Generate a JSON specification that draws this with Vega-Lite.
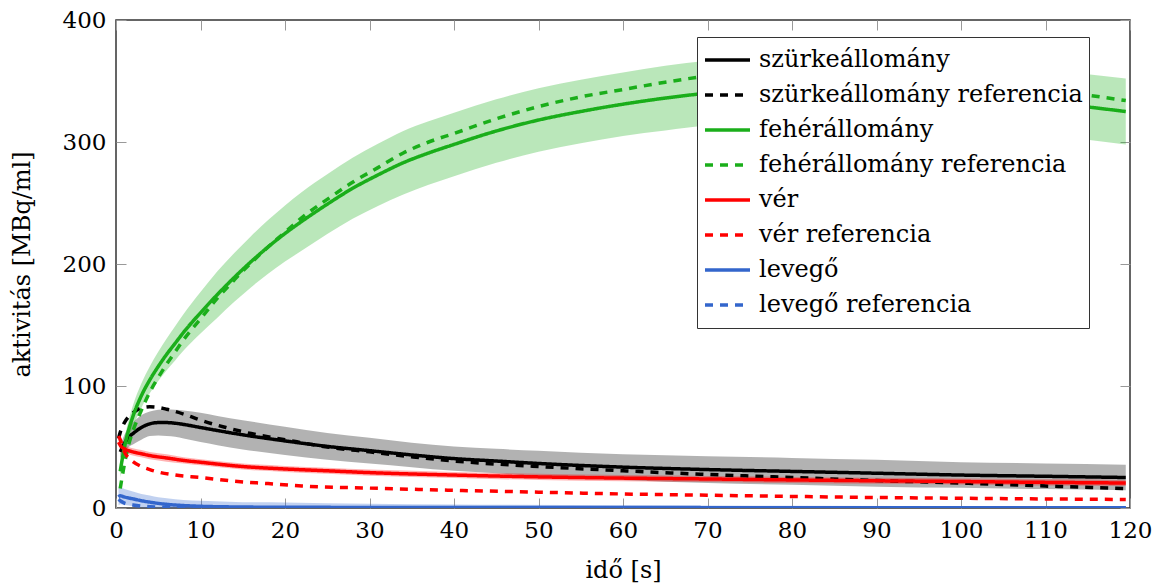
{
  "$schema": "https://vega.github.io/schema/vega-lite/v6.json",
  "width": 1014,
  "height": 488,
  "autosize": {"type": "none"},
  "padding": {"left": 116, "top": 20, "right": 24, "bottom": 78},
  "background": "white",
  "config": {
    "view": {"stroke": "#333", "strokeWidth": 1.5},
    "font": "DejaVu Serif",
    "axis": {
      "grid": false,
      "domain": false,
      "tickColor": "#999",
      "tickWidth": 1,
      "tickSize": -10,
      "labelFlush": false,
      "labelFont": "DejaVu Serif",
      "labelFontSize": 23,
      "labelColor": "#000",
      "titleFont": "DejaVu Serif",
      "titleFontSize": 24,
      "titleFontWeight": "normal",
      "titleColor": "#000"
    }
  },
  "datasets": {
    "bands": [
      {"t":0.5,"series":"szürkeállomány","lo":41,"hi":51},
      {"t":1,"series":"szürkeállomány","lo":46,"hi":60},
      {"t":1.5,"series":"szürkeállomány","lo":50,"hi":66},
      {"t":2,"series":"szürkeállomány","lo":52,"hi":70},
      {"t":3,"series":"szürkeállomány","lo":56,"hi":76},
      {"t":4,"series":"szürkeállomány","lo":59,"hi":79},
      {"t":5,"series":"szürkeállomány","lo":59.5,"hi":80.5},
      {"t":6,"series":"szürkeállomány","lo":59,"hi":81},
      {"t":7,"series":"szürkeállomány","lo":58.5,"hi":80.5},
      {"t":8,"series":"szürkeállomány","lo":57,"hi":80},
      {"t":10,"series":"szürkeállomány","lo":54,"hi":78},
      {"t":12,"series":"szürkeállomány","lo":51.5,"hi":75.5},
      {"t":15,"series":"szürkeállomány","lo":48,"hi":72},
      {"t":20,"series":"szürkeállomány","lo":43.5,"hi":66.5},
      {"t":25,"series":"szürkeállomány","lo":39.5,"hi":61.5},
      {"t":30,"series":"szürkeállomány","lo":36.5,"hi":57.5},
      {"t":35,"series":"szürkeállomány","lo":33.5,"hi":53.5},
      {"t":40,"series":"szürkeállomány","lo":30.5,"hi":50.5},
      {"t":45,"series":"szürkeállomány","lo":28.5,"hi":48.5},
      {"t":50,"series":"szürkeállomány","lo":26,"hi":47},
      {"t":60,"series":"szürkeállomány","lo":23,"hi":44},
      {"t":70,"series":"szürkeállomány","lo":20.5,"hi":42.5},
      {"t":80,"series":"szürkeállomány","lo":19,"hi":41},
      {"t":90,"series":"szürkeállomány","lo":17.5,"hi":39.5},
      {"t":100,"series":"szürkeállomány","lo":16.5,"hi":37.5},
      {"t":110,"series":"szürkeállomány","lo":15.5,"hi":36.5},
      {"t":119.5,"series":"szürkeállomány","lo":14.5,"hi":35.5},

      {"t":0.5,"series":"fehérállomány","lo":25,"hi":35},
      {"t":1,"series":"fehérállomány","lo":43,"hi":57},
      {"t":1.5,"series":"fehérállomány","lo":56,"hi":72},
      {"t":2,"series":"fehérállomány","lo":66,"hi":84},
      {"t":3,"series":"fehérállomány","lo":82,"hi":102},
      {"t":4,"series":"fehérállomány","lo":94,"hi":116},
      {"t":5,"series":"fehérállomány","lo":104,"hi":128},
      {"t":6,"series":"fehérállomány","lo":113,"hi":139},
      {"t":7,"series":"fehérállomány","lo":121,"hi":149},
      {"t":8,"series":"fehérállomány","lo":129,"hi":159},
      {"t":10,"series":"fehérállomány","lo":143,"hi":177},
      {"t":12,"series":"fehérállomány","lo":156,"hi":194},
      {"t":14,"series":"fehérállomány","lo":169,"hi":209},
      {"t":16,"series":"fehérállomány","lo":181,"hi":223},
      {"t":18,"series":"fehérállomány","lo":192,"hi":236},
      {"t":20,"series":"fehérállomány","lo":202,"hi":248},
      {"t":22,"series":"fehérállomány","lo":211,"hi":259},
      {"t":25,"series":"fehérállomány","lo":224.5,"hi":273.5},
      {"t":28,"series":"fehérállomány","lo":237,"hi":287},
      {"t":31,"series":"fehérállomány","lo":247.5,"hi":298.5},
      {"t":34,"series":"fehérállomány","lo":257,"hi":309},
      {"t":37,"series":"fehérállomány","lo":265,"hi":317},
      {"t":40,"series":"fehérállomány","lo":272,"hi":324},
      {"t":45,"series":"fehérállomány","lo":283,"hi":335},
      {"t":50,"series":"fehérállomány","lo":292,"hi":344},
      {"t":55,"series":"fehérállomány","lo":299,"hi":351},
      {"t":60,"series":"fehérállomány","lo":305,"hi":357},
      {"t":65,"series":"fehérállomány","lo":309.5,"hi":362.5},
      {"t":70,"series":"fehérállomány","lo":313.5,"hi":366.5},
      {"t":75,"series":"fehérállomány","lo":315.5,"hi":369.5},
      {"t":80,"series":"fehérállomány","lo":316.5,"hi":370.5},
      {"t":85,"series":"fehérállomány","lo":316.5,"hi":370.5},
      {"t":90,"series":"fehérállomány","lo":315.5,"hi":369.5},
      {"t":100,"series":"fehérállomány","lo":311.5,"hi":365.5},
      {"t":110,"series":"fehérállomány","lo":305.5,"hi":359.5},
      {"t":119.5,"series":"fehérállomány","lo":298,"hi":352},

      {"t":0.3,"series":"vér","lo":51,"hi":57},
      {"t":0.6,"series":"vér","lo":47.5,"hi":53.5},
      {"t":1,"series":"vér","lo":45.5,"hi":51.5},
      {"t":2,"series":"vér","lo":43,"hi":49},
      {"t":3,"series":"vér","lo":41.5,"hi":47.5},
      {"t":4,"series":"vér","lo":40,"hi":46},
      {"t":6,"series":"vér","lo":38,"hi":44},
      {"t":8,"series":"vér","lo":36.5,"hi":41.5},
      {"t":10,"series":"vér","lo":35,"hi":40},
      {"t":15,"series":"vér","lo":31.5,"hi":36.5},
      {"t":20,"series":"vér","lo":29.5,"hi":34.5},
      {"t":25,"series":"vér","lo":28,"hi":33},
      {"t":30,"series":"vér","lo":26.5,"hi":31.5},
      {"t":40,"series":"vér","lo":24.5,"hi":29.5},
      {"t":50,"series":"vér","lo":23,"hi":28},
      {"t":60,"series":"vér","lo":22,"hi":27},
      {"t":70,"series":"vér","lo":21.3,"hi":26.3},
      {"t":80,"series":"vér","lo":20.5,"hi":25.5},
      {"t":90,"series":"vér","lo":19.8,"hi":24.8},
      {"t":100,"series":"vér","lo":19.2,"hi":24.2},
      {"t":110,"series":"vér","lo":18.5,"hi":23.5},
      {"t":119.5,"series":"vér","lo":18,"hi":23},

      {"t":0.3,"series":"levegő","lo":2,"hi":16},
      {"t":0.5,"series":"levegő","lo":3,"hi":17},
      {"t":1,"series":"levegő","lo":2.5,"hi":15.5},
      {"t":2,"series":"levegő","lo":1.5,"hi":13.5},
      {"t":3,"series":"levegő","lo":0.5,"hi":11.5},
      {"t":4,"series":"levegő","lo":-0.7,"hi":10.3},
      {"t":5,"series":"levegő","lo":-1.2,"hi":8.8},
      {"t":6,"series":"levegő","lo":-2,"hi":8},
      {"t":8,"series":"levegő","lo":-2.5,"hi":6.5},
      {"t":10,"series":"levegő","lo":-3.1,"hi":5.9},
      {"t":15,"series":"levegő","lo":-3.2,"hi":4.8},
      {"t":20,"series":"levegő","lo":-3.4,"hi":4.6},
      {"t":30,"series":"levegő","lo":-2.5,"hi":3.5},
      {"t":40,"series":"levegő","lo":-2.1,"hi":2.9},
      {"t":60,"series":"levegő","lo":-1.65,"hi":2.35},
      {"t":80,"series":"levegő","lo":-1.2,"hi":1.8},
      {"t":119.5,"series":"levegő","lo":-0.9,"hi":1.5}
    ],
    "lines": [
      {"t":0.5,"s":"szürkeállomány","v":46},
      {"t":1,"s":"szürkeállomány","v":53},
      {"t":1.5,"s":"szürkeállomány","v":58},
      {"t":2,"s":"szürkeállomány","v":61},
      {"t":3,"s":"szürkeállomány","v":66},
      {"t":4,"s":"szürkeállomány","v":69},
      {"t":5,"s":"szürkeállomány","v":70},
      {"t":6,"s":"szürkeállomány","v":70},
      {"t":7,"s":"szürkeállomány","v":69.5},
      {"t":8,"s":"szürkeállomány","v":68.5},
      {"t":10,"s":"szürkeállomány","v":66},
      {"t":12,"s":"szürkeállomány","v":63.5},
      {"t":15,"s":"szürkeállomány","v":60},
      {"t":20,"s":"szürkeállomány","v":55},
      {"t":25,"s":"szürkeállomány","v":50.5},
      {"t":30,"s":"szürkeállomány","v":47},
      {"t":35,"s":"szürkeállomány","v":43.5},
      {"t":40,"s":"szürkeállomány","v":40.5},
      {"t":45,"s":"szürkeállomány","v":38.5},
      {"t":50,"s":"szürkeállomány","v":36.5},
      {"t":60,"s":"szürkeállomány","v":33.5},
      {"t":70,"s":"szürkeállomány","v":31.5},
      {"t":80,"s":"szürkeállomány","v":30},
      {"t":90,"s":"szürkeállomány","v":28.5},
      {"t":100,"s":"szürkeállomány","v":27},
      {"t":110,"s":"szürkeállomány","v":26},
      {"t":119.5,"s":"szürkeállomány","v":25},

      {"t":0.3,"s":"szürkeállomány referencia","v":57},
      {"t":0.5,"s":"szürkeállomány referencia","v":62},
      {"t":1,"s":"szürkeállomány referencia","v":70},
      {"t":1.5,"s":"szürkeállomány referencia","v":75},
      {"t":2,"s":"szürkeállomány referencia","v":78},
      {"t":3,"s":"szürkeállomány referencia","v":82},
      {"t":4,"s":"szürkeállomány referencia","v":83},
      {"t":5,"s":"szürkeállomány referencia","v":82.5},
      {"t":6,"s":"szürkeállomány referencia","v":81},
      {"t":8,"s":"szürkeállomány referencia","v":77},
      {"t":10,"s":"szürkeállomány referencia","v":72},
      {"t":13,"s":"szürkeállomány referencia","v":66},
      {"t":16,"s":"szürkeállomány referencia","v":61},
      {"t":20,"s":"szürkeállomány referencia","v":56},
      {"t":25,"s":"szürkeállomány referencia","v":50},
      {"t":30,"s":"szürkeállomány referencia","v":46},
      {"t":35,"s":"szürkeállomány referencia","v":42},
      {"t":40,"s":"szürkeállomány referencia","v":38.5},
      {"t":45,"s":"szürkeállomány referencia","v":36},
      {"t":50,"s":"szürkeállomány referencia","v":34},
      {"t":60,"s":"szürkeállomány referencia","v":30.5},
      {"t":70,"s":"szürkeállomány referencia","v":27.5},
      {"t":80,"s":"szürkeállomány referencia","v":25},
      {"t":90,"s":"szürkeállomány referencia","v":22.5},
      {"t":100,"s":"szürkeállomány referencia","v":20.5},
      {"t":110,"s":"szürkeállomány referencia","v":18},
      {"t":119.5,"s":"szürkeállomány referencia","v":16},

      {"t":0.5,"s":"fehérállomány","v":30},
      {"t":1,"s":"fehérállomány","v":50},
      {"t":1.5,"s":"fehérállomány","v":64},
      {"t":2,"s":"fehérállomány","v":75},
      {"t":3,"s":"fehérállomány","v":92},
      {"t":4,"s":"fehérállomány","v":105},
      {"t":5,"s":"fehérállomány","v":116},
      {"t":6,"s":"fehérállomány","v":126},
      {"t":7,"s":"fehérállomány","v":135},
      {"t":8,"s":"fehérállomány","v":144},
      {"t":10,"s":"fehérállomány","v":160},
      {"t":12,"s":"fehérállomány","v":175},
      {"t":14,"s":"fehérállomány","v":189},
      {"t":16,"s":"fehérállomány","v":202},
      {"t":18,"s":"fehérállomány","v":214},
      {"t":20,"s":"fehérállomány","v":225},
      {"t":22,"s":"fehérállomány","v":235},
      {"t":25,"s":"fehérállomány","v":249},
      {"t":28,"s":"fehérállomány","v":262},
      {"t":31,"s":"fehérállomány","v":273},
      {"t":34,"s":"fehérállomány","v":283},
      {"t":37,"s":"fehérállomány","v":291},
      {"t":40,"s":"fehérállomány","v":298},
      {"t":45,"s":"fehérállomány","v":309},
      {"t":50,"s":"fehérállomány","v":318},
      {"t":55,"s":"fehérállomány","v":325},
      {"t":60,"s":"fehérállomány","v":331},
      {"t":65,"s":"fehérállomány","v":336},
      {"t":70,"s":"fehérállomány","v":340},
      {"t":75,"s":"fehérállomány","v":342.5},
      {"t":80,"s":"fehérállomány","v":343.5},
      {"t":85,"s":"fehérállomány","v":343.5},
      {"t":90,"s":"fehérállomány","v":342.5},
      {"t":100,"s":"fehérállomány","v":338.5},
      {"t":110,"s":"fehérállomány","v":332.5},
      {"t":119.5,"s":"fehérállomány","v":325},

      {"t":0.5,"s":"fehérállomány referencia","v":16},
      {"t":1,"s":"fehérállomány referencia","v":36},
      {"t":1.5,"s":"fehérállomány referencia","v":52},
      {"t":2,"s":"fehérállomány referencia","v":63},
      {"t":3,"s":"fehérállomány referencia","v":80},
      {"t":4,"s":"fehérállomány referencia","v":95},
      {"t":5,"s":"fehérállomány referencia","v":107},
      {"t":6,"s":"fehérállomány referencia","v":118},
      {"t":7,"s":"fehérállomány referencia","v":128},
      {"t":8,"s":"fehérállomány referencia","v":138},
      {"t":10,"s":"fehérállomány referencia","v":155},
      {"t":12,"s":"fehérállomány referencia","v":172},
      {"t":14,"s":"fehérállomány referencia","v":187},
      {"t":16,"s":"fehérállomány referencia","v":201},
      {"t":18,"s":"fehérállomány referencia","v":214},
      {"t":20,"s":"fehérállomány referencia","v":226},
      {"t":22,"s":"fehérállomány referencia","v":238},
      {"t":25,"s":"fehérállomány referencia","v":253},
      {"t":28,"s":"fehérállomány referencia","v":267},
      {"t":31,"s":"fehérállomány referencia","v":279},
      {"t":34,"s":"fehérállomány referencia","v":291},
      {"t":37,"s":"fehérállomány referencia","v":300},
      {"t":40,"s":"fehérállomány referencia","v":307},
      {"t":45,"s":"fehérállomány referencia","v":319},
      {"t":50,"s":"fehérállomány referencia","v":329},
      {"t":55,"s":"fehérállomány referencia","v":337},
      {"t":60,"s":"fehérállomány referencia","v":343},
      {"t":65,"s":"fehérállomány referencia","v":349},
      {"t":70,"s":"fehérállomány referencia","v":354},
      {"t":75,"s":"fehérállomány referencia","v":356.5},
      {"t":80,"s":"fehérállomány referencia","v":357.5},
      {"t":85,"s":"fehérállomány referencia","v":357.5},
      {"t":90,"s":"fehérállomány referencia","v":356},
      {"t":100,"s":"fehérállomány referencia","v":350.5},
      {"t":110,"s":"fehérállomány referencia","v":343},
      {"t":119.5,"s":"fehérállomány referencia","v":334},

      {"t":0.3,"s":"vér","v":54},
      {"t":0.6,"s":"vér","v":50.5},
      {"t":1,"s":"vér","v":48.5},
      {"t":2,"s":"vér","v":46},
      {"t":3,"s":"vér","v":44.5},
      {"t":4,"s":"vér","v":43},
      {"t":6,"s":"vér","v":41},
      {"t":8,"s":"vér","v":39},
      {"t":10,"s":"vér","v":37.5},
      {"t":15,"s":"vér","v":34},
      {"t":20,"s":"vér","v":32},
      {"t":25,"s":"vér","v":30.5},
      {"t":30,"s":"vér","v":29},
      {"t":40,"s":"vér","v":27},
      {"t":50,"s":"vér","v":25.5},
      {"t":60,"s":"vér","v":24.5},
      {"t":70,"s":"vér","v":23.8},
      {"t":80,"s":"vér","v":23},
      {"t":90,"s":"vér","v":22.3},
      {"t":100,"s":"vér","v":21.7},
      {"t":110,"s":"vér","v":21},
      {"t":119.5,"s":"vér","v":20.5},

      {"t":0.3,"s":"vér referencia","v":59},
      {"t":0.5,"s":"vér referencia","v":56},
      {"t":0.8,"s":"vér referencia","v":50},
      {"t":1,"s":"vér referencia","v":46},
      {"t":1.5,"s":"vér referencia","v":41},
      {"t":2,"s":"vér referencia","v":38},
      {"t":3,"s":"vér referencia","v":34},
      {"t":4,"s":"vér referencia","v":31.5},
      {"t":5,"s":"vér referencia","v":29.5},
      {"t":7,"s":"vér referencia","v":27},
      {"t":10,"s":"vér referencia","v":25},
      {"t":14,"s":"vér referencia","v":22},
      {"t":18,"s":"vér referencia","v":20},
      {"t":22,"s":"vér referencia","v":18},
      {"t":30,"s":"vér referencia","v":16.3},
      {"t":40,"s":"vér referencia","v":14.5},
      {"t":50,"s":"vér referencia","v":13},
      {"t":60,"s":"vér referencia","v":11.5},
      {"t":70,"s":"vér referencia","v":10.5},
      {"t":80,"s":"vér referencia","v":9.5},
      {"t":90,"s":"vér referencia","v":8.6},
      {"t":100,"s":"vér referencia","v":8},
      {"t":110,"s":"vér referencia","v":7.4},
      {"t":119.5,"s":"vér referencia","v":7},

      {"t":0.3,"s":"levegő","v":9},
      {"t":0.5,"s":"levegő","v":10},
      {"t":1,"s":"levegő","v":9},
      {"t":2,"s":"levegő","v":7.5},
      {"t":3,"s":"levegő","v":6},
      {"t":4,"s":"levegő","v":4.8},
      {"t":5,"s":"levegő","v":3.8},
      {"t":6,"s":"levegő","v":3},
      {"t":8,"s":"levegő","v":2},
      {"t":10,"s":"levegő","v":1.4},
      {"t":15,"s":"levegő","v":0.8},
      {"t":20,"s":"levegő","v":0.6},
      {"t":40,"s":"levegő","v":0.4},
      {"t":80,"s":"levegő","v":0.3},
      {"t":119.5,"s":"levegő","v":0.3},

      {"t":0.3,"s":"levegő referencia","v":7},
      {"t":0.5,"s":"levegő referencia","v":6},
      {"t":1,"s":"levegő referencia","v":4},
      {"t":2,"s":"levegő referencia","v":2.5},
      {"t":3,"s":"levegő referencia","v":1.5},
      {"t":5,"s":"levegő referencia","v":0.8},
      {"t":8,"s":"levegő referencia","v":0.4},
      {"t":15,"s":"levegő referencia","v":0.2},
      {"t":119.5,"s":"levegő referencia","v":0.1}
    ]
  },
  "layer": [
    {
      "data": {"name": "bands"},
      "mark": {"type": "area", "opacity": 0.3, "clip": true, "interpolate": "monotone"},
      "encoding": {
        "x": {
          "field": "t", "type": "quantitative",
          "scale": {"domain": [0, 120], "nice": false, "zero": false},
          "axis": {
            "orient": "bottom",
            "values": [0, 10, 20, 30, 40, 50, 60, 70, 80, 90, 100, 110, 120],
            "labelPadding": 21,
            "title": "idő [s]",
            "titlePadding": 16
          }
        },
        "y": {
          "field": "lo", "type": "quantitative",
          "scale": {"domain": [0, 400], "nice": false},
          "axis": {
            "orient": "left",
            "values": [0, 100, 200, 300, 400],
            "labelPadding": 20,
            "title": "aktivitás [MBq/ml]",
            "titlePadding": 28
          }
        },
        "y2": {"field": "hi"},
        "fill": {
          "field": "series", "type": "nominal",
          "scale": {
            "domain": ["szürkeállomány", "fehérállomány", "vér", "levegő"],
            "range": ["#000000", "#1aae1a", "#ff0000", "#3366cc"]
          },
          "legend": null
        },
        "detail": {"field": "series"}
      }
    },
    {
      "data": {"name": "lines"},
      "mark": {"type": "line", "strokeWidth": 3.5, "clip": true, "interpolate": "monotone"},
      "encoding": {
        "x": {
          "field": "t", "type": "quantitative",
          "axis": {
            "orient": "top",
            "values": [0, 10, 20, 30, 40, 50, 60, 70, 80, 90, 100, 110, 120],
            "labels": false,
            "title": null
          }
        },
        "y": {
          "field": "v", "type": "quantitative",
          "axis": {
            "orient": "right",
            "values": [0, 100, 200, 300, 400],
            "labels": false,
            "title": null
          }
        },
        "color": {
          "field": "s", "type": "nominal",
          "scale": {
            "domain": ["szürkeállomány", "szürkeállomány referencia", "fehérállomány", "fehérállomány referencia", "vér", "vér referencia", "levegő", "levegő referencia"],
            "range": ["#000000", "#000000", "#1aae1a", "#1aae1a", "#ff0000", "#ff0000", "#3366cc", "#3366cc"]
          },
          "legend": {
            "orient": "none", "legendX": 581, "legendY": 17, "title": null,
            "symbolType": "stroke", "symbolSize": 2025, "symbolStrokeWidth": 3.5,
            "labelFont": "DejaVu Serif", "labelFontSize": 24, "labelColor": "#000",
            "labelOffset": 7, "labelLimit": 600,
            "strokeColor": "#333", "fillColor": "white", "padding": 6,
            "clipHeight": 34, "rowPadding": 1
          }
        },
        "strokeDash": {
          "field": "s", "type": "nominal",
          "scale": {
            "domain": ["szürkeállomány", "szürkeállomány referencia", "fehérállomány", "fehérállomány referencia", "vér", "vér referencia", "levegő", "levegő referencia"],
            "range": [[1, 0], [8, 7], [1, 0], [8, 7], [1, 0], [8, 7], [1, 0], [8, 7]]
          },
          "legend": {
            "orient": "none", "legendX": 581, "legendY": 17, "title": null,
            "symbolType": "stroke", "symbolSize": 2025, "symbolStrokeWidth": 3.5,
            "labelFont": "DejaVu Serif", "labelFontSize": 24, "labelColor": "#000",
            "labelOffset": 7, "labelLimit": 600,
            "strokeColor": "#333", "fillColor": "white", "padding": 6,
            "clipHeight": 34, "rowPadding": 1
          }
        }
      }
    }
  ],
  "resolve": {"axis": {"x": "independent", "y": "independent"}}
}
